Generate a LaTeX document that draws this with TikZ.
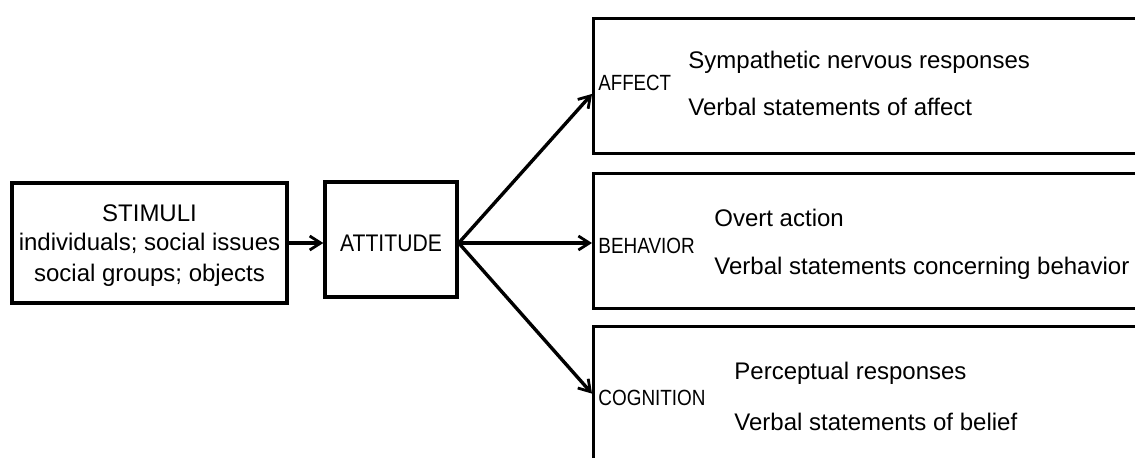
\documentclass[tikz,border=0pt]{standalone}
\usepackage{fontspec}
\setmainfont{Liberation Sans}
\usetikzlibrary{arrows.meta,calc}
\newcommand{\narrow}[2]{\scalebox{#1}[1]{#2}}
\begin{document}
\begin{tikzpicture}[x=0.5pt,y=-0.5pt,
  box/.style={draw,line width=1.7pt,rectangle,inner sep=0pt},
  link/.style={line width=1.7pt,-{Straight Barb[length=5.5pt,width=7pt,line width=1.4pt]}},
  txt/.style={inner sep=0pt,font=\fontsize{12}{14}\selectfont},
  tag/.style={inner sep=0pt,anchor=west,font=\fontsize{11}{13}\selectfont}]
\useasboundingbox (0,0) rectangle (1135,457);
\clip (0,0) rectangle (1135,457);

% source and attitude boxes
\node[box,minimum width=137.5pt,minimum height=60pt] (stim) at (149.5,243) {};
\node[txt] (stimA) at (149.5,213) {STIMULI};
\node[txt] (stimB) at (149.5,243) {individuals; social issues};
\node[txt] (stimC) at (149.5,275) {social groups; objects};

\node[box,minimum width=66pt,minimum height=57.5pt] (att) at (391,239.5) {};
\node[txt] (attT) at (391,243) {\narrow{0.88}{ATTITUDE}};

% response component boxes (running off the right edge)
\node[box,anchor=north west,minimum width=279pt,minimum height=67.5pt] (aff) at (592,17) {};
\node[box,anchor=north west,minimum width=279pt,minimum height=67.5pt] (beh) at (592,172) {};
\node[box,anchor=north west,minimum width=279pt,minimum height=75pt] (cog) at (592,325) {};

\node[tag] (affT) at (598,83) {\narrow{0.85}{AFFECT}};
\node[txt,anchor=west] (aff1) at (688,62) {Sympathetic nervous responses};
\node[txt,anchor=west] (aff2) at (688,107) {Verbal statements of affect};

\node[tag] (behT) at (598,246) {\narrow{0.86}{BEHAVIOR}};
\node[txt,anchor=west] (beh1) at (714,218) {Overt action};
\node[txt,anchor=west] (beh2) at (714,268) {Verbal statements concerning behavior};

\node[tag] (cogT) at (598,398) {\narrow{0.86}{COGNITION}};
\node[txt,anchor=west] (cog1) at (734,373) {Perceptual responses};
\node[txt,anchor=west] (cog2) at (734,422) {Verbal statements of belief};

% connectors
\draw[link] (stim.east |- stimB) -- (att.west |- stimB);
\coordinate (fork) at (att.east |- stimB);
\draw[link] (fork) -- ($(aff.north west)!0.556!(aff.south west)$);
\draw[link] (fork) -- (beh.west |- fork);
\draw[link] (fork) -- ($(cog.north west)!0.447!(cog.south west)$);
\end{tikzpicture}
\end{document}
